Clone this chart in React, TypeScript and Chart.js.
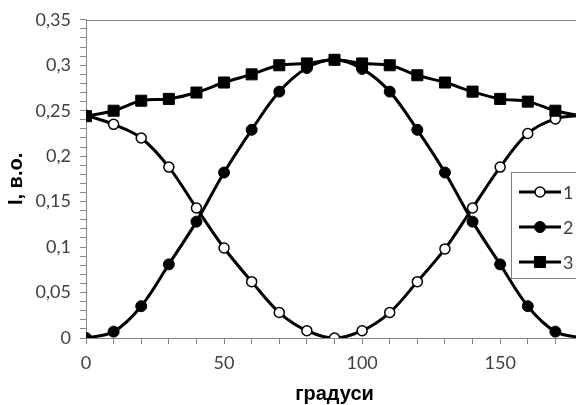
import React, { useEffect, useRef } from "react";
import { Chart, registerables } from "chart.js";

Chart.register(...registerables);

const angles = [0, 10, 20, 30, 40, 50, 60, 70, 80, 90, 100, 110, 120, 130, 140, 150, 160, 170, 180];
const series1 = [0.245, 0.235, 0.22, 0.188, 0.143, 0.099, 0.062, 0.028, 0.008, 0.0, 0.008, 0.028, 0.062, 0.098, 0.143, 0.188, 0.225, 0.241, 0.245];
const series2 = [0.0, 0.007, 0.035, 0.081, 0.128, 0.182, 0.229, 0.271, 0.297, 0.306, 0.296, 0.271, 0.229, 0.182, 0.128, 0.081, 0.035, 0.007, 0.0];
const series3 = [0.244, 0.25, 0.261, 0.263, 0.27, 0.281, 0.29, 0.3, 0.302, 0.306, 0.302, 0.3, 0.289, 0.281, 0.271, 0.263, 0.26, 0.25, 0.244];
const seriesLabels = ["1", "2", "3"];
const xMajorTicks = [0, 50, 100, 150];
const yMajorTicks = [0, 0.05, 0.1, 0.15, 0.2, 0.25, 0.3, 0.35];
const yMajorLabels = ["0", "0,05", "0,1", "0,15", "0,2", "0,25", "0,3", "0,35"];
const xTitle = "градуси";
const yTitle = "I, в.о.";

const TICK_FONT = "Lato";
const TEXT_COLOR = "#404040";
const AXIS_COLOR = "#868686";

const legendPlugin = {
  id: "boxLegend",
  afterDraw(chart: any) {
    const ctx = chart.ctx as CanvasRenderingContext2D;
    const x0 = 511, y0 = 172, w = 90, h = 106;
    const rows = [192, 227, 262];
    ctx.save();
    ctx.fillStyle = "#ffffff";
    ctx.fillRect(x0, y0, w, h);
    ctx.strokeStyle = "#7f7f7f";
    ctx.lineWidth = 1;
    ctx.strokeRect(x0 + 0.5, y0 + 0.5, w, h);
    chart.data.datasets.forEach((ds: any, i: number) => {
      const y = rows[i];
      ctx.strokeStyle = "#000";
      ctx.lineWidth = 3;
      ctx.beginPath();
      ctx.moveTo(519, y);
      ctx.lineTo(561, y);
      ctx.stroke();
      const mx = 540;
      ctx.lineWidth = ds.pointBorderWidth;
      ctx.fillStyle = ds.pointBackgroundColor;
      ctx.strokeStyle = ds.pointBorderColor;
      ctx.beginPath();
      if (ds.pointStyle === "rect") {
        const s = Math.SQRT1_2 * ds.pointRadius;
        ctx.rect(mx - s, y - s, 2 * s, 2 * s);
      } else {
        ctx.arc(mx, y, ds.pointRadius, 0, Math.PI * 2);
      }
      ctx.fill();
      ctx.stroke();
      ctx.fillStyle = TEXT_COLOR;
      ctx.font = `18px ${TICK_FONT}`;
      ctx.textBaseline = "middle";
      ctx.textAlign = "left";
      ctx.fillText(ds.label, 563, y + 1);
    });
    ctx.restore();
  },
};

const borderPlugin = {
  id: "topBorder",
  beforeDatasetsDraw(chart: any) {
    const { ctx, chartArea } = chart;
    ctx.save();
    ctx.strokeStyle = AXIS_COLOR;
    ctx.lineWidth = 1;
    ctx.beginPath();
    ctx.moveTo(chartArea.left, Math.round(chartArea.top) + 0.5);
    ctx.lineTo(chartArea.right, Math.round(chartArea.top) + 0.5);
    ctx.stroke();
    ctx.restore();
  },
};

export default function App() {
  const ref = useRef<HTMLCanvasElement | null>(null);

  useEffect(() => {
    if (!ref.current) return;
    const mk = (values: number[]) => angles.map((a, i) => ({ x: a, y: values[i] }));
    const chart = new Chart(ref.current, {
      type: "line",
      data: {
        datasets: [
          {
            label: seriesLabels[0],
            data: mk(series1),
            borderColor: "#000",
            borderWidth: 3,
            tension: 0.35,
            pointStyle: "circle",
            pointRadius: 5,
            pointBorderWidth: 1.5,
            pointBackgroundColor: "#fff",
            pointBorderColor: "#000",
            order: 2,
          },
          {
            label: seriesLabels[1],
            data: mk(series2),
            borderColor: "#000",
            borderWidth: 3,
            tension: 0.35,
            pointStyle: "circle",
            pointRadius: 5.5,
            pointBorderWidth: 1,
            pointBackgroundColor: "#000",
            pointBorderColor: "#000",
            order: 1,
          },
          {
            label: seriesLabels[2],
            data: mk(series3),
            borderColor: "#000",
            borderWidth: 3,
            tension: 0.35,
            pointStyle: "rect",
            pointRadius: 7.8,
            pointBorderWidth: 1,
            pointBackgroundColor: "#000",
            pointBorderColor: "#000",
            order: 0,
          },
        ] as any,
      },
      options: {
        responsive: false,
        animation: false,
        events: [],
        layout: { padding: { top: 17, right: 17, left: 0, bottom: 0 } },
        plugins: { legend: { display: false }, tooltip: { enabled: false } },
        scales: {
          x: {
            type: "linear",
            min: 0,
            max: 180,
            afterFit: (s: any) => { s.height = 67; },
            ticks: {
              stepSize: 10,
              autoSkip: false,
              maxRotation: 0,
              padding: 8,
              color: TEXT_COLOR,
              font: { family: TICK_FONT, size: 18 },
              callback: (v: any) => {
                const n = Math.round(Number(v));
                return xMajorTicks.includes(n) ? String(n) : "";
              },
            },
            grid: { drawOnChartArea: false, drawTicks: true, tickLength: 6, color: AXIS_COLOR },
            border: { color: AXIS_COLOR, width: 1 },
            title: {
              display: true,
              text: xTitle,
              color: "#000",
              font: { family: "Liberation Sans", size: 20, weight: "bold", lineHeight: 1.1 },
              padding: { top: 0, bottom: 0 },
            },
          },
          y: {
            type: "linear",
            min: 0,
            max: 0.35,
            afterFit: (s: any) => { s.width = 86; },
            ticks: {
              stepSize: 0.01,
              autoSkip: false,
              padding: 9,
              color: TEXT_COLOR,
              font: { family: TICK_FONT, size: 18 },
              callback: (v: any) => {
                const n = Math.round(Number(v) * 100);
                const idx = yMajorTicks.findIndex((t) => Math.round(t * 100) === n);
                return idx >= 0 ? yMajorLabels[idx] : "";
              },
            },
            grid: { drawOnChartArea: false, drawTicks: true, tickLength: 6, color: AXIS_COLOR },
            border: { color: AXIS_COLOR, width: 1 },
            title: {
              display: true,
              text: yTitle,
              color: "#000",
              font: { family: "Liberation Sans", size: 20, weight: "bold", lineHeight: 1.1 },
              padding: { top: 5, bottom: 0 },
            },
          },
        },
      } as any,
      plugins: [borderPlugin, legendPlugin],
    });
    return () => chart.destroy();
  }, []);

  return (
    <div style={{ position: "fixed", left: 0, top: 0, width: 576, height: 405, overflow: "hidden", background: "#fff" }}>
      <canvas ref={ref} width={600} height={405} style={{ display: "block" }} />
    </div>
  );
}
